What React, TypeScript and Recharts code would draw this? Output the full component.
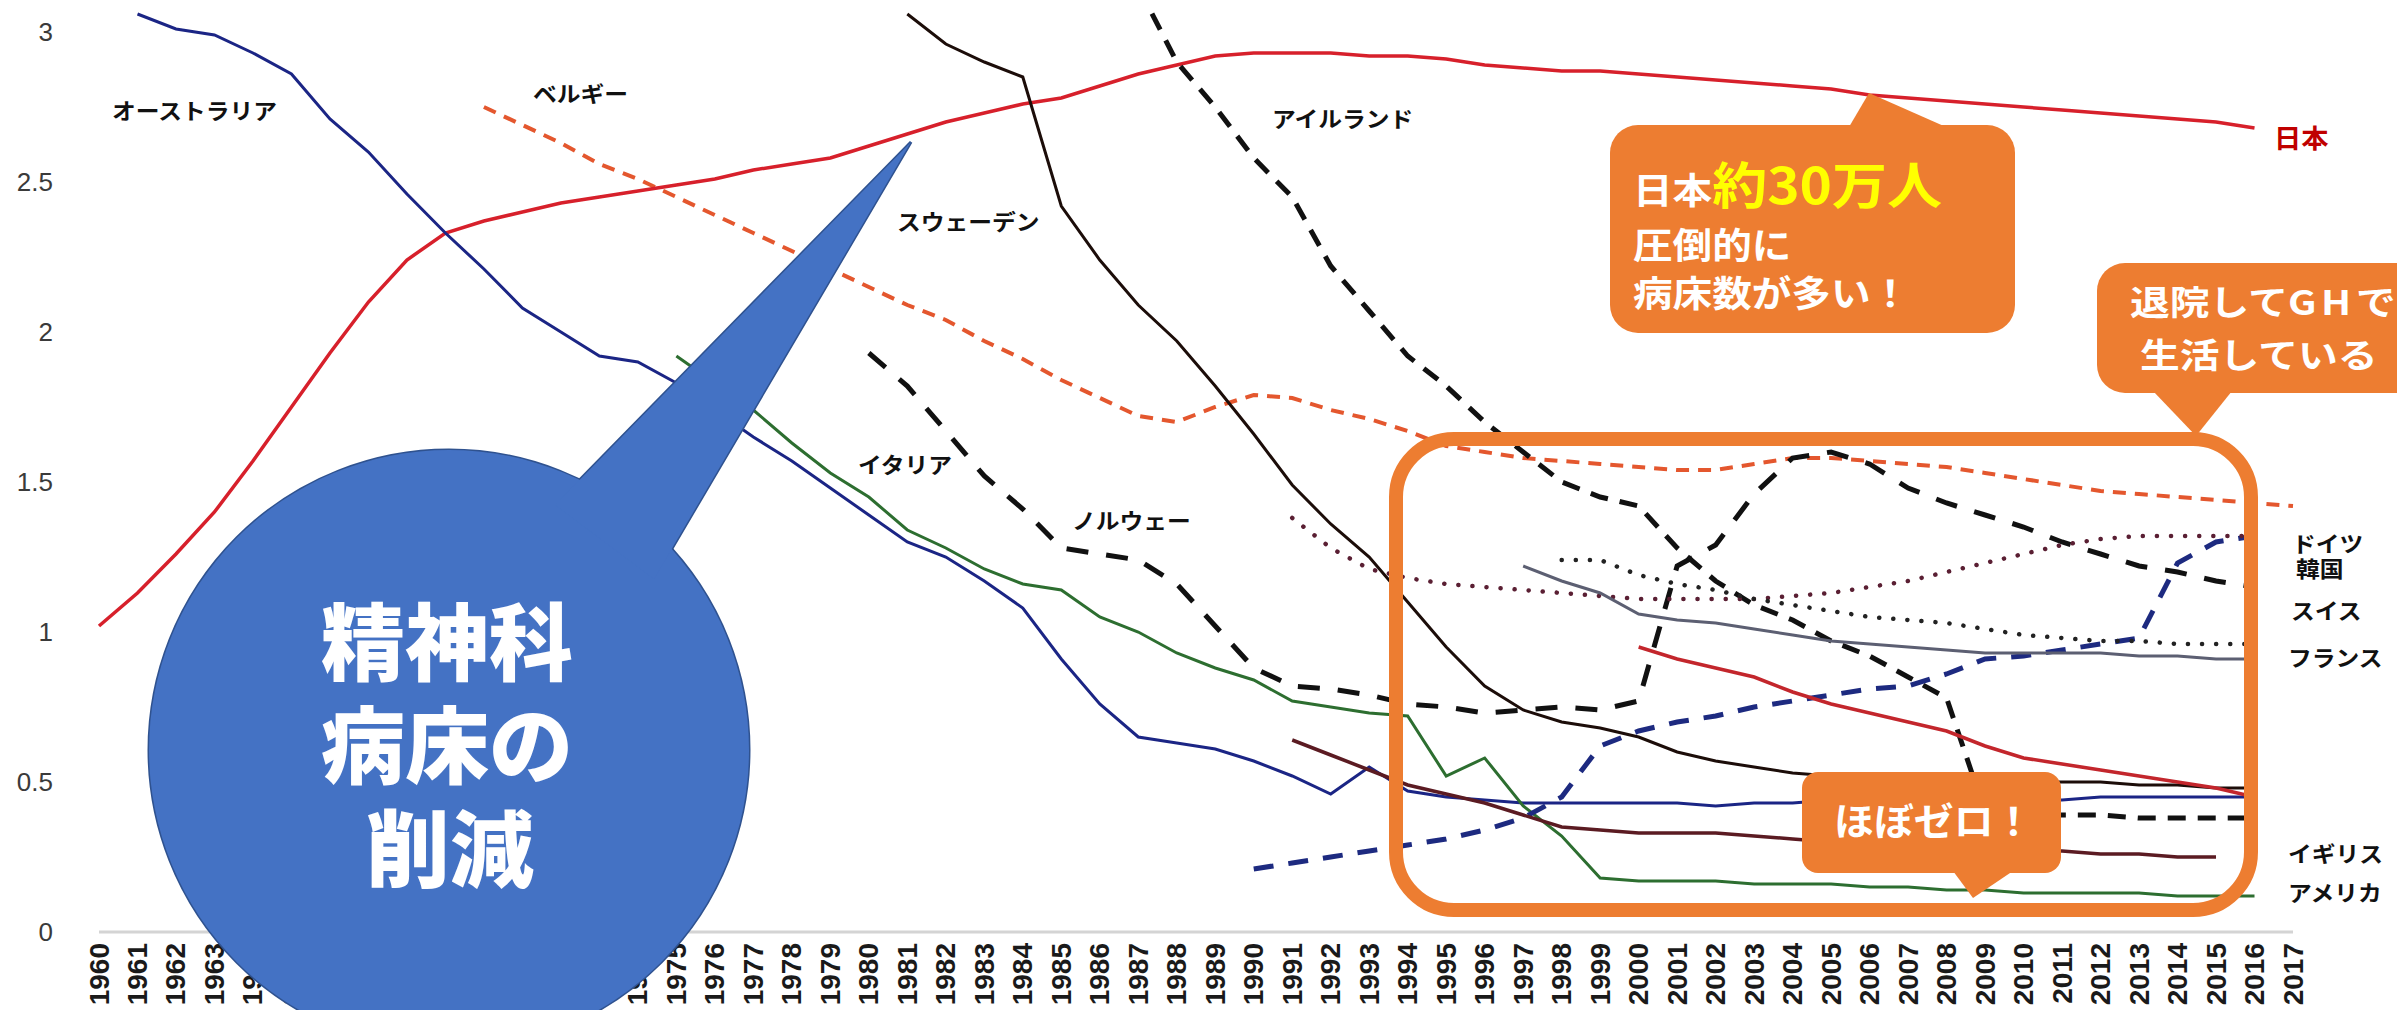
import React from "react";
import { LineChart, Line, XAxis, YAxis } from "recharts";

// x categories / ticks
const YEARS = [
  1960, 1961, 1962, 1963, 1964, 1965, 1966, 1967, 1968, 1969,
  1970, 1971, 1972, 1973, 1974, 1975, 1976, 1977, 1978, 1979,
  1980, 1981, 1982, 1983, 1984, 1985, 1986, 1987, 1988, 1989,
  1990, 1991, 1992, 1993, 1994, 1995, 1996, 1997, 1998, 1999,
  2000, 2001, 2002, 2003, 2004, 2005, 2006, 2007, 2008, 2009,
  2010, 2011, 2012, 2013, 2014, 2015, 2016, 2017,
];
const Y_TICKS = [0, 0.5, 1, 1.5, 2, 2.5, 3];

// beds per 1000 population, one value per year from the start year
const japan = [
  1.02, 1.13, 1.26, 1.4, 1.57, 1.75, 1.93, 2.1, 2.24, 2.33,
  2.37, 2.4, 2.43, 2.45, 2.47, 2.49, 2.51, 2.54, 2.56, 2.58,
  2.62, 2.66, 2.7, 2.73, 2.76, 2.78, 2.82, 2.86, 2.89, 2.92,
  2.93, 2.93, 2.93, 2.92, 2.92, 2.91, 2.89, 2.88, 2.87, 2.87,
  2.86, 2.85, 2.84, 2.83, 2.82, 2.81, 2.79, 2.78, 2.77, 2.76,
  2.75, 2.74, 2.73, 2.72, 2.71, 2.7, 2.68,
]; // 1960-
const australia = [
  3.06, 3.01, 2.99, 2.93, 2.86, 2.71, 2.6, 2.46, 2.33, 2.21,
  2.08, 2.0, 1.92, 1.9, 1.83, 1.74, 1.65, 1.57, 1.48, 1.39,
  1.3, 1.25, 1.17, 1.08, 0.91, 0.76, 0.65, 0.63, 0.61, 0.57,
  0.52, 0.46, 0.55, 0.47, 0.45, 0.44, 0.43, 0.43, 0.43, 0.43,
  0.43, 0.42, 0.43, 0.43, 0.44, 0.44, 0.44, 0.44, 0.44, 0.44,
  0.44, 0.45, 0.45, 0.45, 0.45, 0.45,
]; // 1961-
const belgium = [
  2.75, 2.69, 2.63, 2.56, 2.51, 2.45, 2.39, 2.33, 2.27, 2.21,
  2.15, 2.09, 2.04, 1.97, 1.91, 1.84, 1.78, 1.72, 1.7, 1.75,
  1.79, 1.78, 1.74, 1.71, 1.67, 1.62, 1.6, 1.58, 1.57, 1.56,
  1.55, 1.54, 1.54, 1.56, 1.58, 1.58, 1.57, 1.56, 1.55, 1.53,
  1.51, 1.49, 1.47, 1.46, 1.45, 1.44, 1.43, 1.42,
]; // 1970-
const sweden = [
  3.06, 2.96, 2.9, 2.85, 2.42, 2.24, 2.09, 1.97, 1.82, 1.66,
  1.49, 1.36, 1.25, 1.1, 0.95, 0.82, 0.74, 0.7, 0.68, 0.65,
  0.6, 0.57, 0.55, 0.53, 0.52, 0.52, 0.51, 0.51, 0.51, 0.5,
  0.5, 0.5, 0.49, 0.49, 0.48, 0.48,
]; // 1981-
const ireland = [
  3.15, 2.9, 2.75, 2.58, 2.45, 2.22, 2.07, 1.92, 1.82, 1.7,
  1.6, 1.5, 1.45, 1.42, 1.28, 1.17, 1.09, 1.04, 0.97, 0.92,
  0.85, 0.78, 0.4, 0.39, 0.39, 0.39, 0.38, 0.38, 0.38, 0.38,
]; // 1987-
const norway = [
  1.93, 1.82, 1.67, 1.52, 1.41, 1.28, 1.26, 1.24, 1.16, 1.02,
  0.88, 0.82, 0.81, 0.79, 0.76, 0.75, 0.73, 0.74, 0.75, 0.74,
  0.77, 1.22, 1.29, 1.46, 1.58, 1.6, 1.56, 1.48, 1.43, 1.39,
  1.35, 1.3, 1.26, 1.22, 1.2, 1.17, 1.15,
]; // 1980-
const korea = [
  0.21, 0.23, 0.25, 0.27, 0.29, 0.31, 0.34, 0.38, 0.45, 0.62,
  0.67, 0.7, 0.72, 0.75, 0.77, 0.79, 0.81, 0.82, 0.86, 0.91,
  0.92, 0.94, 0.96, 0.98, 1.23, 1.3, 1.32,
]; // 1990-
const germany = [
  1.38, 1.28, 1.21, 1.18, 1.16, 1.15, 1.14, 1.13, 1.12, 1.11,
  1.11, 1.11, 1.11, 1.12, 1.13, 1.15, 1.17, 1.2, 1.23, 1.26,
  1.29, 1.31, 1.32, 1.32, 1.32, 1.32,
]; // 1991-
const switzerland = [
  1.24, 1.24, 1.19, 1.16, 1.14, 1.11, 1.09, 1.07, 1.05, 1.04,
  1.03, 1.01, 0.99, 0.98, 0.97, 0.97, 0.96, 0.96, 0.96,
]; // 1998-
const france = [
  1.22, 1.17, 1.13, 1.06, 1.04, 1.03, 1.01, 0.99, 0.97, 0.96,
  0.95, 0.94, 0.93, 0.93, 0.93, 0.93, 0.92, 0.92, 0.91, 0.91,
]; // 1997-
const redLow = [
  0.95, 0.91, 0.88, 0.85, 0.8, 0.76, 0.73, 0.7, 0.67, 0.62,
  0.58, 0.56, 0.54, 0.52, 0.5, 0.48, 0.45,
]; // 2000-
const uk = [
  0.64, 0.59, 0.54, 0.49, 0.46, 0.43, 0.39, 0.35, 0.34, 0.33,
  0.33, 0.33, 0.32, 0.31, 0.3, 0.3, 0.29, 0.28, 0.28, 0.27,
  0.27, 0.26, 0.26, 0.25, 0.25,
]; // 1991-
const usa = [
  1.92, 1.83, 1.74, 1.63, 1.53, 1.45, 1.34, 1.28, 1.21, 1.16,
  1.14, 1.05, 1.0, 0.93, 0.88, 0.84, 0.77, 0.75, 0.73, 0.72,
  0.52, 0.58, 0.42, 0.32, 0.18, 0.17, 0.17, 0.17, 0.16, 0.16,
  0.16, 0.15, 0.15, 0.14, 0.14, 0.13, 0.13, 0.13, 0.13, 0.12,
  0.12, 0.12,
]; // 1975-

const DOT = "0.1 14";

const SERIES = [
  { key: "belgium", from: 1970, values: belgium, color: "#e4572e", width: 4, dash: "13 9" },
  { key: "japan", from: 1960, values: japan, color: "#d7202b", width: 3.5 },
  { key: "australia", from: 1961, values: australia, color: "#1b2585", width: 3 },
  { key: "usa", from: 1975, values: usa, color: "#2d6e30", width: 3 },
  { key: "sweden", from: 1981, values: sweden, color: "#1c0d09", width: 3 },
  { key: "norway", from: 1980, values: norway, color: "#111111", width: 5, dash: "22 18" },
  { key: "ireland", from: 1987, values: ireland, color: "#111111", width: 5, dash: "18 12" },
  { key: "korea", from: 1990, values: korea, color: "#1d2a80", width: 5, dash: "20 15" },
  { key: "germany", from: 1991, values: germany, color: "#5a1f33", width: 4.5, dash: DOT, cap: "round" },
  { key: "switzerland", from: 1998, values: switzerland, color: "#222222", width: 4.5, dash: DOT, cap: "round" },
  { key: "france", from: 1997, values: france, color: "#5c5f72", width: 3 },
  { key: "redLow", from: 2000, values: redLow, color: "#c3262c", width: 3.5 },
  { key: "uk", from: 1991, values: uk, color: "#5b1b22", width: 3.5 },
];

const data = YEARS.map((year) => {
  const row: Record<string, number | null> = { year };
  SERIES.forEach((s) => {
    const v = s.values[year - s.from];
    row[s.key] = v === undefined ? null : v;
  });
  return row;
});

const LABELS = [
  { text: "オーストラリア", x: 112, y: 119 },
  { text: "ベルギー", x: 533, y: 102 },
  { text: "スウェーデン", x: 897, y: 230 },
  { text: "アイルランド", x: 1272, y: 127 },
  { text: "イタリア", x: 858, y: 473 },
  { text: "ノルウェー", x: 1072, y: 529 },
  { text: "ドイツ", x: 2292, y: 552 },
  { text: "韓国", x: 2296, y: 577 },
  { text: "スイス", x: 2291, y: 619 },
  { text: "フランス", x: 2288, y: 666 },
  { text: "イギリス", x: 2288, y: 862 },
  { text: "アメリカ", x: 2288, y: 901 },
];

const JP = "'Noto Sans CJK JP', 'Noto Sans', sans-serif";
const ORANGE = "#ed7d31";

function YearTick({ x, y, payload }: any) {
  return (
    <text
      x={x}
      y={y}
      transform={`rotate(-90 ${x} ${y})`}
      textAnchor="end"
      dominantBaseline="central"
      fontFamily="'Liberation Sans', Arial, sans-serif"
      fontWeight={700}
      fontSize={28}
      fill="#1a1a1a"
    >
      {payload.value}
    </text>
  );
}

function SText({ x, y, size, sx = 1, fill = "#111", weight = 700, anchor = "start", children }: any) {
  return (
    <text
      transform={`translate(${x} ${y}) scale(${sx} 1)`}
      fontFamily={JP}
      fontSize={size}
      fontWeight={weight}
      fill={fill}
      textAnchor={anchor}
    >
      {children}
    </text>
  );
}

function Overlay() {
  const tri = "911,142 555,505 654,579";
  return (
    <svg
      width={2397}
      height={1010}
      style={{ position: "absolute", left: 0, top: 0, pointerEvents: "none" }}
    >
      {/* blue speech bubble */}
      <circle cx={449} cy={750} r={300} fill="none" stroke="#2f528f" strokeWidth={3} />
      <polygon points={tri} fill="none" stroke="#2f528f" strokeWidth={3} />
      <circle cx={449} cy={750} r={300} fill="#4472c4" />
      <polygon points={tri} fill="#4472c4" />
      <SText x={447} y={674} size={84} weight={900} fill="#fff" anchor="middle">精神科</SText>
      <SText x={447} y={777} size={84} weight={900} fill="#fff" anchor="middle">病床の</SText>
      <SText x={450} y={881} size={84} weight={900} fill="#fff" anchor="middle">削減</SText>

      {/* orange frame */}
      <rect x={1396} y={439} width={855} height={471} rx={58} fill="none" stroke={ORANGE} strokeWidth={14} />

      {/* Japan callout */}
      <rect x={1610} y={125} width={405} height={208} rx={28} fill={ORANGE} />
      <polygon points="1849,127 1869,93 1946,127" fill={ORANGE} />
      <text transform="translate(1633 204) scale(1.1 1)" fontFamily={JP} fontWeight={700}>
        <tspan fontSize={36} fill="#fff">日本</tspan>
        <tspan fontSize={50} fill="#ffff00">約30万人</tspan>
      </text>
      <SText x={1633} y={259} size={36} sx={1.1} fill="#fff">圧倒的に</SText>
      <SText x={1633} y={307} size={36} sx={1.1} fill="#fff">病床数が多い！</SText>

      {/* GH callout */}
      <rect x={2097} y={263} width={340} height={130} rx={28} fill={ORANGE} />
      <polygon points="2153,391 2196,436 2232,391" fill={ORANGE} />
      <SText x={2130} y={315} size={34} sx={1.17} fill="#fff">
        退院して<tspan letterSpacing={4}>GH</tspan>で
      </SText>
      <SText x={2140} y={368} size={34} sx={1.17} fill="#fff">生活している</SText>

      {/* almost zero callout */}
      <rect x={1802} y={772} width={259} height={101} rx={16} fill={ORANGE} />
      <polygon points="1953,871 1973,898 2013,871" fill={ORANGE} />
      <SText x={1834} y={835} size={38} sx={1.05} fill="#fff">ほぼゼロ！</SText>

      {/* series labels */}
      <SText x={2274} y={148} size={26} sx={1.05} fill="#c00000">日本</SText>
      {LABELS.map((l) => (
        <SText key={l.text} x={l.x} y={l.y} size={22} sx={1.08}>
          {l.text}
        </SText>
      ))}
    </svg>
  );
}

export default function App() {
  return (
    <div style={{ position: "absolute", left: 0, top: 0, width: 2397, height: 1010, background: "#fff" }}>
      <LineChart width={2397} height={1010} data={data} margin={{ top: 11, right: 104, bottom: 0, left: 0 }}>
        <XAxis
          dataKey="year"
          type="number"
          domain={[1960, 2017]}
          ticks={YEARS}
          interval={0}
          height={78}
          tickSize={0}
          tickMargin={11}
          tickLine={false}
          axisLine={{ stroke: "#d4d4d4", strokeWidth: 3 }}
          tick={<YearTick />}
        />
        <YAxis
          type="number"
          domain={[0, 3.07]}
          ticks={Y_TICKS}
          allowDataOverflow
          width={99}
          tickSize={0}
          tickMargin={46}
          tickLine={false}
          axisLine={false}
          tick={{ fontFamily: "'Liberation Sans', Arial, sans-serif", fontSize: 26, fill: "#3a3a3a" }}
        />
        {SERIES.map((s) => (
          <Line
            key={s.key}
            type="linear"
            dataKey={s.key}
            stroke={s.color}
            strokeWidth={s.width}
            strokeDasharray={s.dash}
            strokeLinecap={s.cap as any}
            dot={false}
            activeDot={false}
            connectNulls={false}
            isAnimationActive={false}
          />
        ))}
      </LineChart>
      <Overlay />
    </div>
  );
}
